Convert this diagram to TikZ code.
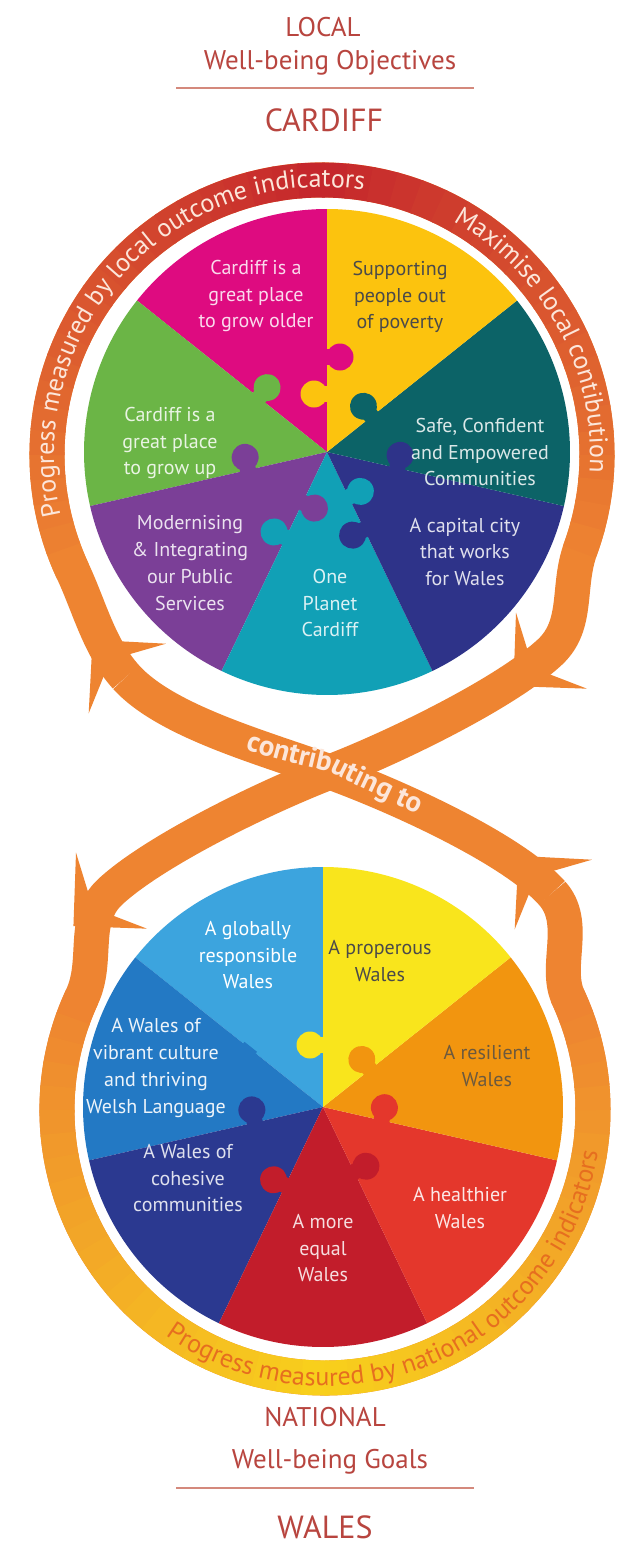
\documentclass[tikz,border=0pt]{standalone}
\usepackage{fontspec}
\setmainfont{PT Sans}
\usetikzlibrary{decorations.text}
\definecolor{headred}{HTML}{B8453F}
\definecolor{headline}{HTML}{D4897C}
\definecolor{bandorange}{HTML}{EE8431}
\definecolor{ringred}{HTML}{C4252C}
\definecolor{ringyellow}{HTML}{F8D01C}
\definecolor{ringtxt}{HTML}{FCE6DA}
\definecolor{natxt}{HTML}{E66E1F}
\definecolor{cmag}{HTML}{DE0B80}
\definecolor{cyel}{HTML}{FCC30E}
\definecolor{cdteal}{HTML}{0C6367}
\definecolor{cnavy}{HTML}{2E3389}
\definecolor{clteal}{HTML}{11A0B6}
\definecolor{cpurp}{HTML}{7B3F97}
\definecolor{cgreen}{HTML}{6BB546}
\definecolor{wlblue}{HTML}{3CA4DE}
\definecolor{wyel}{HTML}{F9E51C}
\definecolor{worange}{HTML}{F2950F}
\definecolor{wred}{HTML}{E4372C}
\definecolor{wdred}{HTML}{C21D2B}
\definecolor{wnavy}{HTML}{2B3990}
\definecolor{wmblue}{HTML}{2379C4}
\definecolor{darktxt}{HTML}{4A4A4A}
\newcommand\rtxt{\fontsize{26}{26}\selectfont\color{ringtxt}}
\newcommand\ntxt{\fontsize{26}{26}\selectfont\color{natxt}}
\newcommand\ctxt{\fontsize{29}{29}\selectfont\bfseries\color{ringtxt}}
\tikzset{
  head/.style={font=\fontsize{27}{30}\selectfont, text=headred, inner sep=0pt},
  bighead/.style={font=\fontsize{32}{34}\selectfont, text=headred, inner sep=0pt},
  seglabel/.style={font=\fontsize{20}{26.7}\selectfont, align=center, inner sep=0pt},
  band/.style={line width=35pt, draw=bandorange, line cap=butt},
  arrowhd/.style={fill=bandorange},
}
\begin{document}
\begin{tikzpicture}[x=1pt,y=1pt]
\useasboundingbox (0,0) rectangle (636,-1555);
\fill[white] (0,0) rectangle (636,-1555);

% headings
\node[head] (local) at (323,-27) {LOCAL};
\node[head] (obj) at (330,-63) {Well-being Objectives};
\coordinate (l1a) at (176,-88); \coordinate (l1b) at (474,-88);
\draw[headline, line width=2pt] (l1a) -- (l1b);
\node[bighead] (cardiff) at (324,-120) {CARDIFF};
\node[head] (national) at (325,-1417) {NATIONAL};
\node[head] (goals) at (330,-1462) {Well-being Goals};
\coordinate (l2a) at (176,-1488); \coordinate (l2b) at (474,-1488);
\draw[headline, line width=2pt] (l2a) -- (l2b);
\node[bighead] (wales) at (325,-1527) {WALES};

% key points
\coordinate (Rt) at (322,-455);
\coordinate (Rb) at (325,-1110);
\coordinate (A) at (126,-677);
\coordinate (B) at (550,-652);
\coordinate (C) at (110,-892);
\coordinate (D) at (552,-893);
\coordinate (X) at (330,-772);

% under band: top loop + S2 + bottom loop
\draw[band] (A) .. controls (99.2,-647.3) and (89.7,-607.4) .. (72.8,-571.2)
  arc[start angle=205, end angle=-20, radius=275]
  .. controls (566.7,-586.7) and (579.2,-624.7) .. (B)
  .. controls (506.1,-692.9) and (395.4,-746.9) .. (X)
  .. controls (264.6,-797.1) and (153.9,-851.1) .. (C)
  .. controls (80.7,-919.3) and (99.0,-960.4) .. (82.1,-996.7)
  arc[start angle=155, end angle=385, radius=268]
  .. controls (554.0,-965.4) and (578.8,-922.7) .. (D);

% gradients on the rings
\foreach \a in {205,200,...,-15}{
  \pgfmathtruncatemacro{\p}{max(0,min(100,100-abs(\a-2.8-90)*100/112))}
  \draw[line width=35pt, draw=ringred!\p!bandorange] (Rt) ++(\a:275) arc[start angle=\a, end angle=\a-5.6, radius=275];
}
\foreach \a in {155,160,...,380}{
  \pgfmathtruncatemacro{\p}{max(0,min(100,abs(\a+2.8-270)*100/112))}
  \draw[line width=35pt, draw=bandorange!\p!ringyellow] (Rb) ++(\a:268) arc[start angle=\a, end angle=\a+5.6, radius=268];
}

% over band S1
\draw[band] (A) .. controls (166.1,-721.6) and (264.2,-748.1) .. (X)
  .. controls (395.8,-795.9) and (511.9,-848.4) .. (D);

% arrowheads
\foreach \pt/\r in {A/132, B/-137, C/-137, D/132}{
  \begin{scope}[shift={(\pt)}, rotate=\r]
    \fill[arrowhd] (50,0) -- (-2,52) -- (16,15) -- (16,-15) -- (-2,-52) -- cycle;
  \end{scope}
}

% ring texts
\path[decorate, decoration={text along path, text align=center,
  text={|\rtxt|Progress measured by local outcome indicators}}]
  (Rt) ++(207:268) arc[start angle=207, end angle=67, radius=268];
\path[decorate, decoration={text along path, text align=center,
  text={|\rtxt|Maximise local contibution}}]
  (Rt) ++(66:268) arc[start angle=66, end angle=-9, radius=268];
\path[decorate, decoration={text along path, text align=center,
  text={|\ntxt|Progress measured by national outcome indicators}}]
  (Rb) ++(221:276) arc[start angle=221, end angle=365, radius=276];
\path[shift={(-2.7,-9)}, decorate, decoration={text along path, text align=center,
  text={|\ctxt|contributing to}}]
  (A) .. controls (166.1,-721.6) and (264.2,-748.1) .. (X)
  .. controls (395.8,-795.9) and (499.9,-835.4) .. (540,-880);

% top wheel
\begin{scope}[shift={(327,-452)}]
  \foreach \k/\c in {0/cmag,1/cgreen,2/cpurp,3/clteal,4/cnavy,5/cdteal,6/cyel}{
    \pgfmathsetmacro{\s}{90+51.4286*\k}
    \pgfmathsetmacro{\e}{\s+51.4286}
    \fill[\c] (0,0) -- (\s:243) arc[start angle=\s, end angle=\e, radius=243] -- cycle;
  }
  \foreach \b/\d/\sg/\c in {90/58/1/cyel, 90/95/-1/cmag, 38.57/57/1/cdteal,
      -12.86/72/1/cnavy, -64.29/86/-1/cnavy, -64.29/50/1/clteal,
      -115.71/95/-1/clteal, -115.71/56/1/cpurp, 192.86/81/-1/cpurp, 141.43/87/-1/cgreen}{
    \begin{scope}[rotate=\b]
      \fill[\c] (\d-8,{-2*\sg}) rectangle (\d+8,{6*\sg});
      \fill[\c] (\d,{13*\sg}) circle[radius=13.5];
    \end{scope}
  }
\end{scope}
\node[seglabel, text=white!85!cmag] (t1) at (256,-296) {Cardiff is a\\great place\\to grow older};
\node[seglabel, text=darktxt] (t2) at (400,-297) {Supporting\\people out\\of poverty};
\node[seglabel, text=white!85!cdteal] (t3) at (480,-452) {Safe, Confident\\and Empowered\\Communities};
\node[seglabel, text=white!85!cnavy] (t4) at (465,-552) {A capital city\\that works\\for Wales};
\node[seglabel, text=white!85!clteal] (t5) at (330,-603) {One\\Planet\\Cardiff};
\node[seglabel, text=white!85!cpurp] (t6) at (190,-563) {Modernising\\\& Integrating\\our Public\\Services};
\node[seglabel, text=white!85!cgreen] (t7) at (170,-443) {Cardiff is a\\great place\\to grow up};

% bottom wheel
\begin{scope}[shift={(323,-1107)}]
  \foreach \k/\c in {0/wlblue,1/wmblue,2/wnavy,3/wdred,4/wred,5/worange,6/wyel}{
    \pgfmathsetmacro{\s}{90+51.4286*\k}
    \pgfmathsetmacro{\e}{\s+51.4286}
    \fill[\c] (0,0) -- (\s:240) arc[start angle=\s, end angle=\e, radius=240] -- cycle;
  }
  \foreach \b/\d/\sg/\c in {90/62/1/wyel, 38.57/60/1/worange, -12.86/60/1/wred,
      -64.29/72/1/wdred, -115.71/87/-1/wdred, 192.86/70/-1/wnavy, 141.43/94/1/wmblue}{
    \begin{scope}[rotate=\b]
      \fill[\c] (\d-8,{-2*\sg}) rectangle (\d+8,{6*\sg});
      \fill[\c] (\d,{13*\sg}) circle[radius=13.5];
    \end{scope}
  }
\end{scope}
\node[seglabel, text=white] (g1) at (248,-955) {A globally\\responsible\\Wales};
\node[seglabel, text=darktxt] (g2) at (380,-961) {A properous\\Wales};
\node[seglabel, text=darktxt!80!worange] (g3) at (487,-1066) {A resilient\\Wales};
\node[seglabel, text=white!92!wmblue] (g4) at (156,-1068) {A Wales of\\vibrant culture\\and thriving\\Welsh Language};
\node[seglabel, text=white!85!wnavy] (g5) at (188,-1178) {A Wales of\\cohesive\\communities};
\node[seglabel, text=white!88!wred] (g6) at (460,-1208) {A healthier\\Wales};
\node[seglabel, text=white!85!wdred] (g7) at (323,-1248) {A more\\equal\\Wales};
\end{tikzpicture}
\end{document}
